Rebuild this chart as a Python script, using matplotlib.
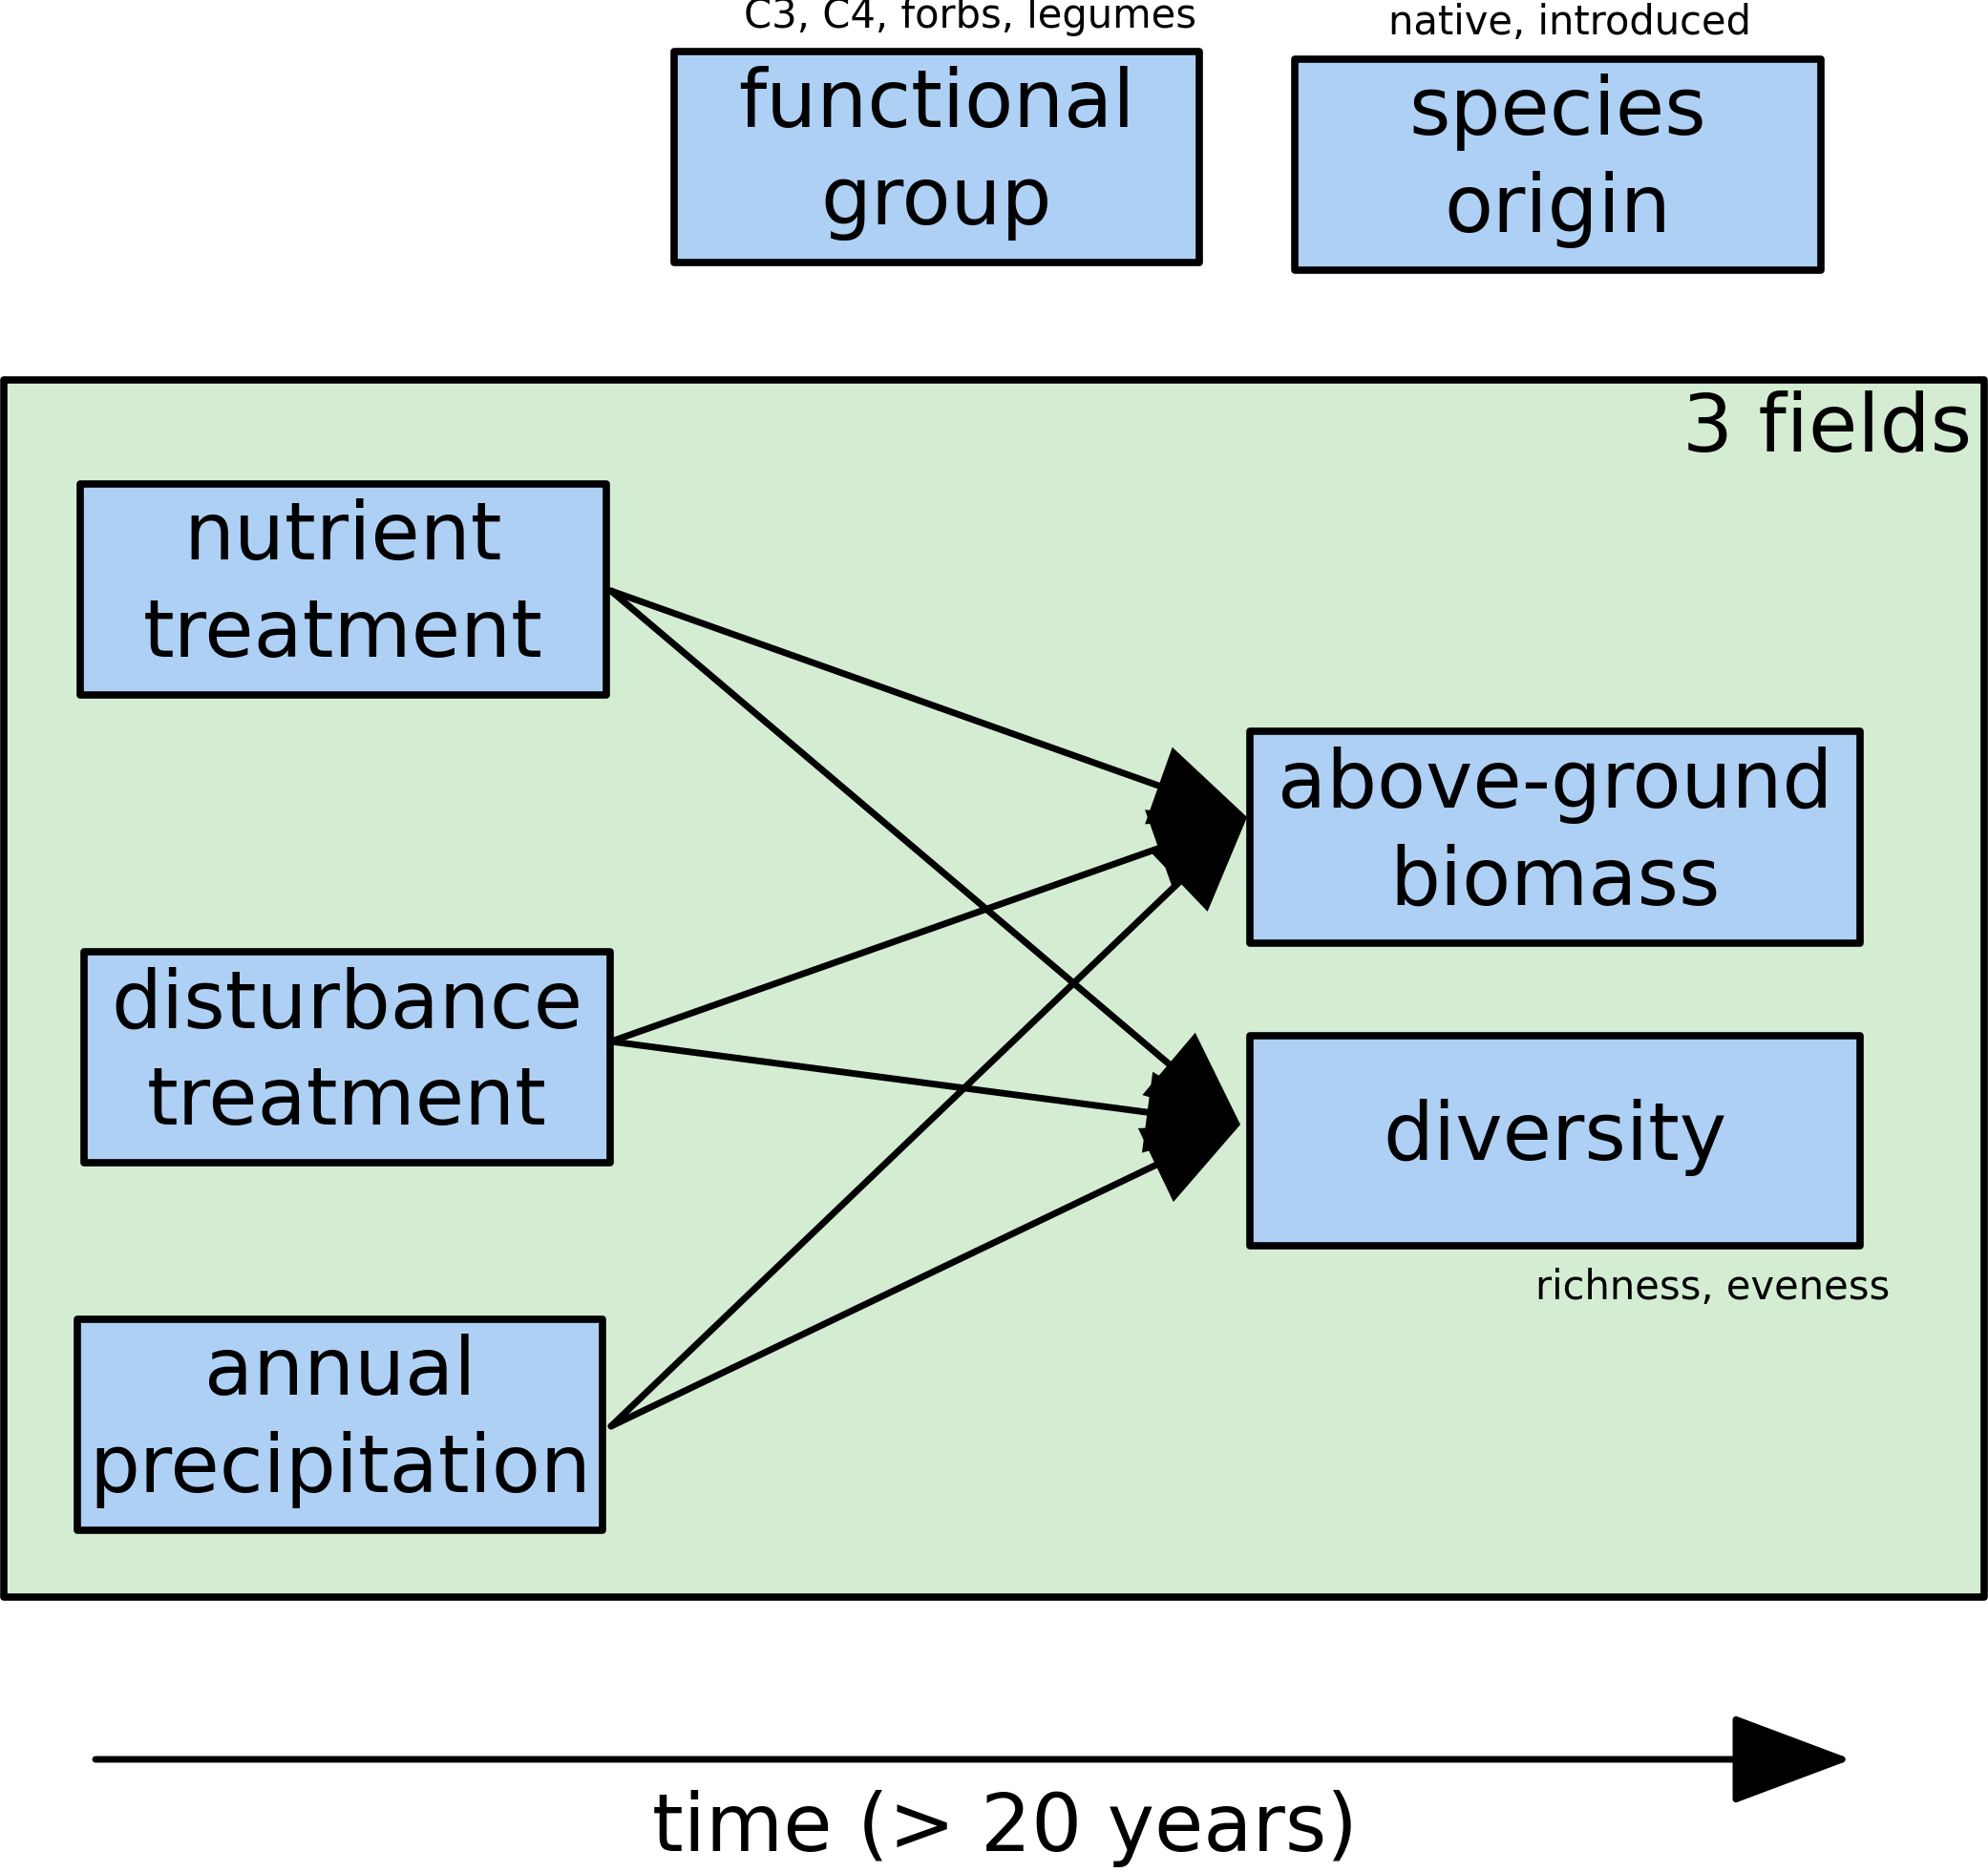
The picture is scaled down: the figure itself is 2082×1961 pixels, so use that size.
import matplotlib
matplotlib.use("Agg")
import matplotlib.pyplot as plt
from matplotlib.patches import Rectangle, FancyArrowPatch, ArrowStyle

# ---- data ----
box_names = ["functional", "origin", "nutrient", "disturbance", "precip", "biomass", "diversity"]
box_labels = ["functional\ngroup", "species\norigin", "nutrient\ntreatment",
              "disturbance\ntreatment", "annual\nprecipitation",
              "above-ground\nbiomass", "diversity"]
sub_labels = ["C3, C4, forbs, legumes", "native, introduced", "richness, eveness"]
edges_from = ["nutrient", "nutrient", "disturbance", "disturbance", "precip", "precip"]
edges_to = ["biomass", "diversity", "biomass", "diversity", "biomass", "diversity"]
frame_label = "3 fields"
time_label = "time (> 20 years)"

# ---- layout (pixel coords, y down) ----
box_rects = {
    "functional": (706, 54, 550, 221),
    "origin": (1356, 62, 551, 221),
    "nutrient": (84, 507, 551, 221),
    "disturbance": (88, 997, 551, 221),
    "precip": (81, 1382, 550, 221),
    "biomass": (1309, 766, 639, 222),
    "diversity": (1309, 1085, 639, 220),
}
start_pts = {"nutrient": (640, 619), "disturbance": (640, 1091), "precip": (640, 1494)}
end_pts = {"biomass": (1306, 856), "diversity": (1299, 1178)}
sub_pos = [(1016, 17), (1644, 24), (1794, 1349)]

BLUE = "#aed0f5"
GREEN = "#d4edd2"
LW = 5.5

fig = plt.figure(figsize=(20.82, 19.61), dpi=100)
ax = fig.add_axes([0, 0, 1, 1])
ax.set_xlim(0, 2082)
ax.set_ylim(1961, 0)
ax.axis("off")

# green frame
ax.add_patch(Rectangle((4, 398), 2074, 1275, facecolor=GREEN, edgecolor="black",
                       linewidth=LW, joinstyle="round", zorder=1))
ax.text(2065, 449, frame_label, fontsize=60, ha="right", va="center", zorder=5)

# boxes
for name, lab in zip(box_names, box_labels):
    x, y, w, h = box_rects[name]
    ax.add_patch(Rectangle((x, y), w, h, facecolor=BLUE, edgecolor="black",
                           linewidth=LW, joinstyle="round", zorder=3))
    ax.text(x + w / 2, y + h / 2 - 4, lab, fontsize=60, ha="center", va="center",
            linespacing=1.32, zorder=5)

for (sx, sy), s in zip(sub_pos, sub_labels):
    ax.text(sx, sy, s, fontsize=30, ha="center", va="center", zorder=5)

# arrows
style = ArrowStyle("-|>", head_length=62, head_width=27)
for a, b in zip(edges_from, edges_to):
    arr = FancyArrowPatch(start_pts[a], end_pts[b], arrowstyle=style, mutation_scale=1,
                          linewidth=LW - 0.5, color="black", shrinkA=0, shrinkB=0,
                          joinstyle="miter", zorder=2)
    ax.add_patch(arr)

# time arrow
tstyle = ArrowStyle("-|>", head_length=80, head_width=30)
ax.add_patch(FancyArrowPatch((100, 1843), (1939, 1843), arrowstyle=tstyle, mutation_scale=1,
                             linewidth=LW - 0.5, color="black", shrinkA=0, shrinkB=0, zorder=2))
ax.text(1052, 1916, time_label, fontsize=60, ha="center", va="center")

fig.savefig("out.png", dpi=100, facecolor="white")
